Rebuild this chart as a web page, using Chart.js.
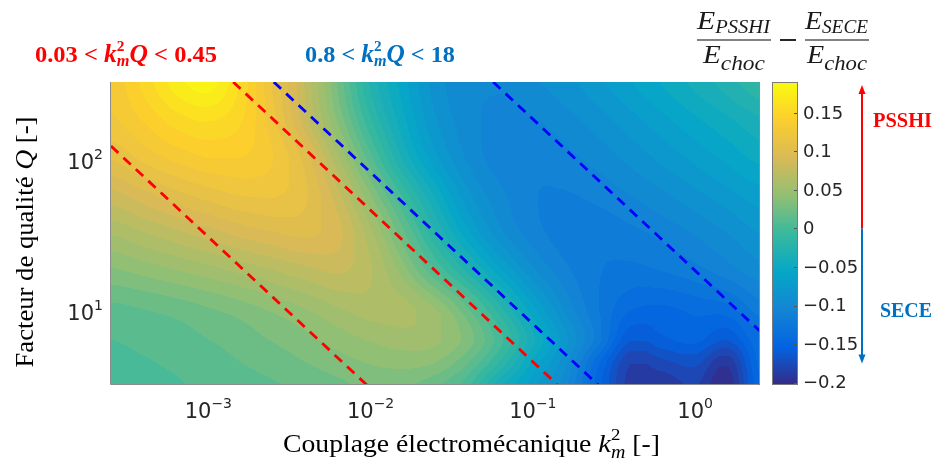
<!DOCTYPE html>
<html><head><meta charset="utf-8">
<script src="https://cdn.jsdelivr.net/npm/chart.js@4/dist/chart.umd.min.js"></script>
<style>html,body{margin:0;padding:0;background:#fff;}#wrap{width:935px;height:464px;position:relative;}</style>
</head><body><div id="wrap"><canvas id="c" width="935" height="464"></canvas></div>
<script>
// ---- data ----
const k2Grid = [2.512e-4, 3.981e-4, 6.310e-4, 1.0e-3, 1.585e-3, 2.512e-3, 3.981e-3, 6.310e-3, 0.01, 0.01585, 0.02512, 0.03981, 0.0631, 0.1, 0.1585, 0.2512, 0.3981, 0.631, 1.0, 1.585, 2.512];
const qGrid = [316.2, 177.8, 100, 56.23, 31.62, 17.78, 10, 6.31, 4.467, 3.162];
const dQ316 = [0.13, 0.15, 0.172, 0.182, 0.155, 0.115, 0.075, 0.025, -0.025, -0.058, -0.088, -0.1, -0.102, -0.095, -0.087, -0.076, -0.064, -0.052, -0.04, -0.028, -0.015];
const dQ178 = [0.125, 0.138, 0.152, 0.158, 0.148, 0.12, 0.08, 0.035, -0.012, -0.05, -0.082, -0.099, -0.106, -0.104, -0.097, -0.088, -0.077, -0.066, -0.055, -0.045, -0.035];
const dQ100 = [0.108, 0.12, 0.13, 0.137, 0.137, 0.127, 0.102, 0.058, 0.01, -0.035, -0.07, -0.095, -0.108, -0.11, -0.106, -0.099, -0.09, -0.08, -0.07, -0.06, -0.05];
const dQ56 = [0.083, 0.093, 0.103, 0.111, 0.117, 0.118, 0.108, 0.08, 0.038, -0.005, -0.045, -0.08, -0.1, -0.112, -0.114, -0.11, -0.103, -0.095, -0.086, -0.077, -0.068];
const dQ32 = [0.058, 0.066, 0.074, 0.082, 0.09, 0.096, 0.099, 0.09, 0.06, 0.02, -0.022, -0.06, -0.09, -0.108, -0.118, -0.12, -0.116, -0.11, -0.102, -0.093, -0.083];
const dQ18 = [0.035, 0.04, 0.046, 0.052, 0.059, 0.066, 0.073, 0.078, 0.068, 0.042, 0.008, -0.025, -0.06, -0.09, -0.11, -0.122, -0.126, -0.123, -0.117, -0.108, -0.098];
const dQ10 = [0.014, 0.017, 0.021, 0.026, 0.032, 0.039, 0.047, 0.056, 0.062, 0.061, 0.047, 0.018, -0.02, -0.06, -0.095, -0.122, -0.142, -0.145, -0.14, -0.137, -0.118];
const dQ6 = [0.007, 0.01, 0.013, 0.017, 0.022, 0.028, 0.034, 0.042, 0.048, 0.052, 0.049, 0.032, 0.0, -0.04, -0.08, -0.118, -0.162, -0.155, -0.15, -0.162, -0.135];
const dQ4 = [0.004, 0.006, 0.009, 0.013, 0.017, 0.022, 0.027, 0.033, 0.038, 0.041, 0.037, 0.018, -0.015, -0.055, -0.09, -0.14, -0.182, -0.176, -0.17, -0.19, -0.14];
const dQ3 = [0.001, 0.003, 0.006, 0.009, 0.012, 0.016, 0.02, 0.025, 0.029, 0.029, 0.02, 0.0, -0.04, -0.068, -0.1, -0.148, -0.188, -0.19, -0.182, -0.2, -0.145];
const deltaE = [dQ316, dQ178, dQ100, dQ56, dQ32, dQ18, dQ10, dQ6, dQ4, dQ3];

const k2Range = [2.512e-4, 2.512];
const qRange = [3.162, 316.2];
const cbRange = [-0.203, 0.19];
const xTicks = [1e-3, 1e-2, 1e-1, 1];
const xTickExp = ['\u22123', '\u22122', '\u22121', '0'];
const yTicks = [10, 100];
const yTickExp = ['1', '2'];
const cbTicks = [-0.2, -0.15, -0.1, -0.05, 0, 0.05, 0.1, 0.15];
const cbTickLabels = ['\u22120.2', '\u22120.15', '\u22120.1', '\u22120.05', '0', '0.05', '0.1', '0.15'];
const redBounds = [0.03, 0.45];
const blueBounds = [0.8, 18];

// ---- colormap (parula) ----
const parula = [[53,42,135],[3,99,225],[20,133,212],[6,167,198],[56,185,158],[146,191,115],[217,186,86],[252,206,46],[249,251,14]];
function cmap(t){
  t = Math.max(0, Math.min(1, t));
  const f = t*(parula.length-1); const i = Math.min(parula.length-2, Math.floor(f)); const u = f-i;
  const a = parula[i], b = parula[i+1];
  return [a[0]+(b[0]-a[0])*u, a[1]+(b[1]-a[1])*u, a[2]+(b[2]-a[2])*u];
}
const lkCols = k2Grid.map(Math.log10);
const lqRows = qGrid.map(Math.log10);
function fracIndex(arr, v){
  const n = arr.length;
  const asc = arr[n-1] > arr[0];
  for (let i=0;i<n-1;i++){
    const a=arr[i], b=arr[i+1];
    if ((asc && v<=b) || (!asc && v>=b) || i===n-2){
      let t=(v-a)/(b-a); t=Math.max(0,Math.min(1,t)); return i+t;
    }
  }
  return 0;
}
function cr(p0,p1,p2,p3,t){return 0.5*((2*p1)+(-p0+p2)*t+(2*p0-5*p1+4*p2-p3)*t*t+(-p0+3*p1-3*p2+p3)*t*t*t);}
function sample(fr, fc){
  const R=deltaE.length, C=deltaE[0].length;
  const ri=Math.min(R-2,Math.floor(fr)), tr=fr-ri;
  const ci=Math.min(C-2,Math.floor(fc)), tc=fc-ci;
  const vals=[];
  for (let k=-1;k<=2;k++){
    const row=deltaE[Math.max(0,Math.min(R-1,ri+k))];
    const g=j=>row[Math.max(0,Math.min(C-1,j))];
    let v=cr(g(ci-1),g(ci),g(ci+1),g(ci+2),tc);
    const l=Math.min(g(ci),g(ci+1)), h=Math.max(g(ci),g(ci+1));
    v=Math.max(l,Math.min(h,v));
    vals.push(v);
  }
  let r=cr(vals[0],vals[1],vals[2],vals[3],tr);
  const l=Math.min(vals[1],vals[2]), h=Math.max(vals[1],vals[2]);
  return Math.max(l,Math.min(h,r));
}

const heatPlugin = {
  id:'heat',
  beforeDatasetsDraw(chart){
    const {ctx, chartArea:a, scales} = chart;
    const xs=scales.x, ys=scales.y;
    const w=Math.round(a.right-a.left), h=Math.round(a.bottom-a.top);
    const off=document.createElement('canvas'); off.width=w; off.height=h;
    const octx=off.getContext('2d');
    const img=octx.createImageData(w,h);
    const fcs=[]; for(let px=0;px<w;px++){fcs.push(fracIndex(lkCols, Math.log10(xs.getValueForPixel(a.left+px+0.5))));}
    const step=0.01, vmin=cbRange[0], span=cbRange[1]-cbRange[0];
    for(let py=0;py<h;py++){
      const fr=fracIndex(lqRows, Math.log10(ys.getValueForPixel(a.top+py+0.5)));
      for(let px=0;px<w;px++){
        let v=sample(fr,fcs[px]);
        v=Math.max(cbRange[0],Math.min(cbRange[1],v));
        const vq=vmin+(Math.floor((v-vmin)/step)+0.5)*step;
        const c=cmap((vq-vmin)/span);
        const o=(py*w+px)*4;
        img.data[o]=c[0];img.data[o+1]=c[1];img.data[o+2]=c[2];img.data[o+3]=255;
      }
    }
    octx.putImageData(img,0,0);
    ctx.drawImage(off,a.left,a.top);
  }
};

function richWidth(ctx,segs){let w=0;for(const s of segs){if(s.stack){let m=0;for(const p of s.stack){ctx.font=p.f;m=Math.max(m,ctx.measureText(p.t).width);}w+=m;}else{ctx.font=s.f;w+=ctx.measureText(s.t).width;}}return w;}
function drawRich(ctx,segs,x,y,color,targetW,align){
  const w=richWidth(ctx,segs); const sx=targetW?targetW/w:1; const W=w*sx;
  const x0=align==='center'?x-W/2:(align==='right'?x-W:x);
  ctx.save();ctx.translate(x0,y);ctx.scale(sx,1);ctx.fillStyle=color;ctx.textAlign='left';ctx.textBaseline='alphabetic';
  let cx=0;
  for(const s of segs){
    if(s.stack){let m=0;for(const p of s.stack){ctx.font=p.f;ctx.fillText(p.t,cx,p.dy||0);m=Math.max(m,ctx.measureText(p.t).width);}cx+=m;}
    else{ctx.font=s.f;ctx.fillText(s.t,cx,s.dy||0);cx+=ctx.measureText(s.t).width;}
  }
  ctx.restore();return W;
}

const decorPlugin = {
  id:'decor',
  afterDraw(chart){
    const {ctx, chartArea:a, scales} = chart;
    const xs=scales.x, ys=scales.y, cb=scales.cb;
    ctx.save();
    ctx.strokeStyle='#8c8c8c';ctx.lineWidth=1;
    ctx.beginPath();ctx.moveTo(a.left-0.5,a.top);ctx.lineTo(a.left-0.5,a.bottom-0.5);ctx.lineTo(a.right-0.5,a.bottom-0.5);ctx.lineTo(a.right-0.5,a.top);ctx.stroke();
    const tc='#262626';
    xTicks.forEach((v,i)=>{
      const px=xs.getPixelForValue(v);
      drawRich(ctx,[{t:'10',f:'21px "DejaVu Sans"'},{t:xTickExp[i],f:'14px "DejaVu Sans"',dy:-10}],px,a.bottom+33,tc,null,'center');
    });
    yTicks.forEach((v,i)=>{
      const py=ys.getPixelForValue(v);
      drawRich(ctx,[{t:'10',f:'21px "DejaVu Sans"'},{t:yTickExp[i],f:'14px "DejaVu Sans"',dy:-10}],a.left-8,py+11,tc,null,'right');
    });
    const serif='"Liberation Serif"';
    drawRich(ctx,[{t:'Couplage électromécanique ',f:'25px '+serif},{t:'k',f:'italic 26px '+serif},{stack:[{t:'2',f:'17px '+serif,dy:-12},{t:'m',f:'italic 18px '+serif,dy:6}]},{t:' [-]',f:'25px '+serif}],283,452,'#000',377,'left');
    ctx.save();ctx.translate(33,242);ctx.rotate(-Math.PI/2);
    drawRich(ctx,[{t:'Facteur de qualité ',f:'25px '+serif},{t:'Q',f:'italic 26px '+serif},{t:' [-]',f:'25px '+serif}],0,0,'#000',251,'center');
    ctx.restore();
    const mk=(lo,hi)=>[{t:lo+' < ',f:'bold 24px '+serif},{t:'k',f:'bold italic 25px '+serif},{stack:[{t:'2',f:'bold 15px '+serif,dy:-11},{t:'m',f:'bold italic 16px '+serif,dy:4}]},{t:'Q',f:'bold italic 25px '+serif},{t:' < '+hi,f:'bold 24px '+serif}];
    drawRich(ctx,mk(String(redBounds[0]),String(redBounds[1])),35,62,'#ff0000',182,'left');
    drawRich(ctx,mk(String(blueBounds[0]),String(blueBounds[1])),305,62,'#0070c0',150,'left');
    const bx0=a.right+13, bx1=a.right+37;
    for(let py=Math.floor(cb.top);py<Math.ceil(cb.bottom);py++){
      const v=cb.getValueForPixel(py+0.5);
      const c=cmap((v-cbRange[0])/(cbRange[1]-cbRange[0]));
      ctx.fillStyle='rgb('+c.map(Math.round).join(',')+')';
      ctx.fillRect(bx0,py,bx1-bx0,1);
    }
    ctx.strokeStyle='#7a7a7a';ctx.lineWidth=1;ctx.strokeRect(bx0-0.5,cb.top+0.5,bx1-bx0+1,cb.bottom-cb.top-1);
    ctx.font='18px "DejaVu Sans"';ctx.fillStyle=tc;ctx.textAlign='left';ctx.textBaseline='middle';
    cbTicks.forEach((v,i)=>{
      const py=cb.getPixelForValue(v);
      ctx.strokeStyle='#555';ctx.beginPath();ctx.moveTo(bx1-3,Math.round(py)+0.5);ctx.lineTo(bx1,Math.round(py)+0.5);ctx.stroke();
      ctx.fillText(cbTickLabels[i],bx1+6,py+1);
    });
    const fE='italic 26px '+serif, fS='italic 18px '+serif;
    drawRich(ctx,[{t:'E',f:fE},{t:'PSSHI',f:fS,dy:4}],697,29,'#1a1a1a',73,'left');
    drawRich(ctx,[{t:'E',f:fE},{t:'choc',f:'italic 21px '+serif,dy:7}],703,63,'#1a1a1a',62,'left');
    drawRich(ctx,[{t:'E',f:fE},{t:'SECE',f:fS,dy:4}],805,29,'#1a1a1a',63,'left');
    drawRich(ctx,[{t:'E',f:fE},{t:'choc',f:'italic 21px '+serif,dy:7}],807,63,'#1a1a1a',60,'left');
    ctx.strokeStyle='#5a5a5a';ctx.lineWidth=1.5;
    ctx.beginPath();ctx.moveTo(697,40);ctx.lineTo(771,40);ctx.moveTo(805,40);ctx.lineTo(869,40);ctx.stroke();
    ctx.strokeStyle='#262626';ctx.lineWidth=2;ctx.beginPath();ctx.moveTo(780,40);ctx.lineTo(796,40);ctx.stroke();
    const ax=862, y0=cb.getPixelForValue(0), yTop=cb.getPixelForValue(0.186), yBot=cb.getPixelForValue(-0.175);
    ctx.lineWidth=2;
    ctx.strokeStyle='#ff0000';ctx.beginPath();ctx.moveTo(ax,y0);ctx.lineTo(ax,yTop+6);ctx.stroke();
    ctx.fillStyle='#ff0000';ctx.beginPath();ctx.moveTo(ax,yTop);ctx.lineTo(ax-3.5,yTop+9);ctx.lineTo(ax+3.5,yTop+9);ctx.closePath();ctx.fill();
    ctx.strokeStyle='#0070c0';ctx.beginPath();ctx.moveTo(ax,y0);ctx.lineTo(ax,yBot-6);ctx.stroke();
    ctx.fillStyle='#0070c0';ctx.beginPath();ctx.moveTo(ax,yBot);ctx.lineTo(ax-3.5,yBot-9);ctx.lineTo(ax+3.5,yBot-9);ctx.closePath();ctx.fill();
    ctx.textBaseline='alphabetic';
    drawRich(ctx,[{t:'PSSHI',f:'bold 20px '+serif}],873,127,'#ff0000',59,'left');
    drawRich(ctx,[{t:'SECE',f:'bold 20px '+serif}],880,317,'#0070c0',52,'left');
    ctx.restore();
  }
};

function boundLine(c){
  const kA=Math.max(k2Range[0], c/qRange[1]), kB=Math.min(k2Range[1], c/qRange[0]);
  return [{x:kA,y:c/kA},{x:kB,y:c/kB}];
}
const lineDs=(c,color)=>({data:boundLine(c),showLine:true,borderColor:color,borderWidth:2.8,borderDash:[10,7],pointRadius:0,fill:false});

new Chart(document.getElementById('c'),{
  type:'scatter',
  data:{datasets:[lineDs(redBounds[0],'#ff0000'),lineDs(redBounds[1],'#ff0000'),lineDs(blueBounds[0],'#0000ff'),lineDs(blueBounds[1],'#0000ff')]},
  options:{
    responsive:false,animation:false,devicePixelRatio:1,
    layout:{padding:{top:82,left:0,right:0,bottom:0}},
    plugins:{legend:{display:false},tooltip:{enabled:false}},
    scales:{
      x:{type:'logarithmic',min:k2Range[0],max:k2Range[1],position:'bottom',grid:{display:false},border:{display:false},ticks:{display:false},afterFit(s){s.height=79;}},
      y:{type:'logarithmic',min:qRange[0],max:qRange[1],position:'left',grid:{display:false},border:{display:false},ticks:{display:false},afterFit(s){s.width=111;}},
      cb:{type:'linear',min:cbRange[0],max:cbRange[1],position:'right',grid:{display:false},border:{display:false},ticks:{display:false},afterFit(s){s.width=175;}}
    }
  },
  plugins:[heatPlugin,decorPlugin]
});
</script></body></html>
